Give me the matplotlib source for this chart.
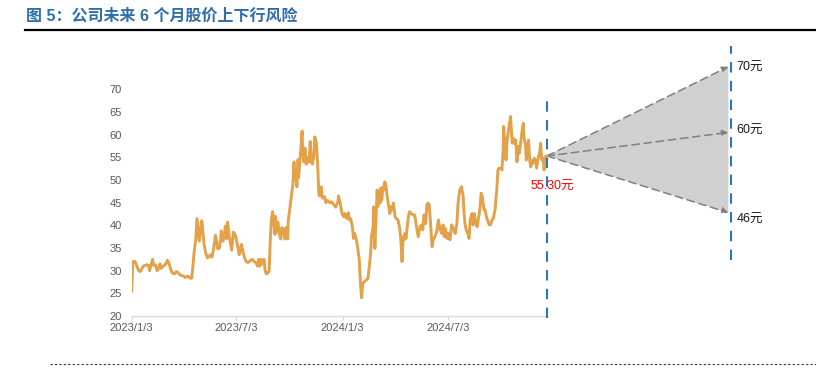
import numpy as np
import pandas as pd
import matplotlib
matplotlib.use("Agg")
import matplotlib.pyplot as plt
import matplotlib.dates as mdates
from matplotlib.lines import Line2D

plt.rcParams['font.family'] = ['Liberation Sans', 'Noto Sans CJK SC', 'DejaVu Sans']

# price series (days counted from 2023/1/3)
start_day = pd.Timestamp('2023-01-03')
days = [
    0, 2, 6, 9, 12, 15, 17, 20, 26, 29, 31, 33, 36, 38, 41, 44, 46, 49, 51, 55,
    59, 62, 65, 67, 70, 74, 77, 81, 84, 90, 93, 97, 100, 102, 104, 106, 108, 111, 113, 115,
    117, 119, 121, 122, 125, 128, 131, 133, 136, 139, 142, 145, 147, 149, 152, 154, 155, 158, 161, 162,
    164, 166, 169, 171, 173, 176, 179, 181, 184, 186, 190, 193, 195, 198, 201, 205, 209, 212, 215, 218,
    220, 222, 224, 227, 229, 231, 233, 236, 238, 240, 242, 244, 246, 248, 249, 251, 253, 256, 258, 260,
    263, 265, 267, 270, 271, 274, 277, 279, 281, 282, 284, 286, 288, 289, 291, 293, 295, 296, 298, 300,
    302, 305, 307, 309, 311, 313, 315, 317, 320, 322, 324, 325, 328, 330, 334, 336, 339, 343, 346, 350,
    353, 357, 358, 361, 364, 367, 369, 372, 375, 377, 379, 382, 384, 386, 389, 391, 394, 396, 398, 400,
    403, 406, 409, 412, 414, 415, 418, 419, 421, 423, 425, 426, 428, 430, 431, 433, 435, 437, 438, 440,
    442, 444, 447, 449, 451, 453, 456, 458, 461, 464, 466, 468, 470, 472, 473, 475, 477, 479, 481, 484,
    487, 490, 493, 496, 499, 502, 504, 506, 508, 509, 511, 513, 515, 517, 520, 522, 525, 528, 531, 534,
    537, 539, 541, 543, 546, 548, 551, 554, 557, 560, 563, 565, 568, 571, 574, 575, 577, 579, 582, 584,
    586, 589, 591, 593, 596, 598, 600, 603, 605, 607, 610, 612, 614, 617, 619, 621, 624, 626, 629, 632,
    634, 636, 639, 641, 643, 644, 646, 648, 650, 651, 654, 656, 658, 659, 661, 663, 665, 667, 669, 671,
    674, 676, 678, 679, 682, 683, 685, 687, 689, 691, 693, 695, 697, 699, 701, 703, 706, 708, 710, 712,
    714, 716, 719,
]
price = [
    25.5, 32.0, 32.0, 31.0, 30.0, 29.8, 30.3, 31.0, 31.3, 31.2, 30.0, 31.0, 32.5, 31.2, 31.3, 30.0, 30.3, 31.5, 30.5, 31.0,
    31.5, 32.3, 31.5, 30.5, 29.5, 29.3, 29.8, 29.5, 29.0, 28.8, 28.5, 28.8, 28.5, 28.3, 28.4, 31.0, 34.0, 37.0, 41.5, 39.0,
    36.5, 38.7, 41.0, 40.5, 36.0, 34.0, 32.8, 33.0, 33.5, 33.0, 35.0, 37.8, 36.5, 34.8, 35.0, 37.0, 38.8, 36.5, 38.5, 39.8,
    37.0, 40.7, 37.5, 36.0, 34.5, 38.5, 38.0, 37.0, 35.0, 33.5, 35.8, 34.0, 33.0, 32.0, 31.8, 32.2, 32.5, 32.0, 31.8, 31.0,
    32.5, 31.0, 32.5, 31.5, 32.5, 30.0, 29.3, 29.5, 30.0, 37.0, 41.3, 43.0, 40.5, 38.0, 42.0, 38.5, 40.7, 38.0, 37.0, 39.5,
    39.0, 37.0, 39.5, 37.0, 41.0, 44.0, 47.0, 49.0, 54.0, 50.0, 52.0, 48.5, 54.5, 50.5, 54.0, 57.0, 60.8, 56.0, 54.0, 57.0,
    53.5, 55.0, 54.0, 58.5, 54.0, 53.5, 55.0, 59.5, 58.0, 53.0, 47.0, 46.5, 48.5, 46.0, 46.3, 45.0, 45.5, 45.0, 45.2, 44.5,
    44.0, 45.2, 46.5, 44.9, 42.6, 41.9, 42.6, 41.5, 42.8, 41.2, 41.5, 39.7, 37.1, 38.2, 36.8, 35.3, 32.4, 27.2, 24.0, 27.2,
    27.6, 27.9, 28.3, 31.6, 34.6, 37.5, 39.7, 44.1, 34.9, 41.9, 47.8, 44.1, 46.7, 44.9, 48.2, 45.6, 48.5, 47.8, 49.6, 48.9,
    46.7, 44.9, 42.6, 44.1, 43.4, 44.9, 41.9, 41.5, 41.2, 39.3, 36.8, 32.0, 37.5, 36.8, 38.2, 37.1, 39.7, 41.9, 43.0, 42.6,
    42.3, 42.3, 39.7, 37.5, 39.7, 40.1, 39.0, 42.3, 41.2, 40.4, 44.5, 44.9, 44.5, 41.2, 35.3, 36.8, 37.5, 38.6, 41.2, 39.0,
    38.2, 40.1, 37.5, 39.3, 37.1, 38.2, 36.8, 40.1, 39.3, 38.2, 40.4, 44.9, 47.8, 48.5, 46.3, 43.4, 40.4, 39.0, 38.2, 37.1,
    41.2, 42.6, 40.1, 42.6, 40.4, 39.7, 41.2, 43.8, 47.1, 46.3, 43.4, 43.4, 41.9, 40.8, 40.1, 40.1, 41.2, 41.5, 43.4, 47.8,
    52.2, 52.6, 52.6, 52.2, 56.6, 61.8, 58.1, 54.4, 58.8, 59.6, 62.5, 64.0, 59.6, 58.1, 59.2, 58.1, 58.8, 54.0, 57.4, 55.9,
    58.8, 61.0, 62.5, 59.6, 57.4, 54.4, 56.6, 58.8, 54.4, 52.9, 54.4, 53.7, 54.8, 54.4, 52.6, 54.4, 55.9, 58.1, 54.4, 54.8,
    52.2, 55.1, 55.3,
]

current_price = 55.30
target_labels = [70, 60, 46]
# where the arrow tips sit on the value axis in the picture (not to scale with labels)
target_tips = [75.0, 60.5, 42.8]
tip_day = 1033
right_line_day = 1038

y_ticks = [20, 25, 30, 35, 40, 45, 50, 55, 60, 65, 70]
x_tick_labels = ['2023/1/3', '2023/7/3', '2024/1/3', '2024/7/3']

dates = start_day + pd.to_timedelta(days, unit='D')
last_date = dates[-1]
tip_date = start_day + pd.Timedelta(days=tip_day)
right_date = start_day + pd.Timedelta(days=right_line_day)

W, H = 816, 382
fig = plt.figure(figsize=(W / 100, H / 100), dpi=100)
ax = fig.add_axes([131.7 / W, (H - 316) / H, (800 - 131.7) / W, (316 - 44) / H])
ax.set_xlim(start_day, start_day + pd.Timedelta(days=1157))
ax.set_ylim(20, 80)

# price line
ax.plot(dates, price, color='#E3A14A', lw=2.1, solid_joinstyle='round', zorder=3)

# axes styling
for s in ['top', 'right', 'left']:
    ax.spines[s].set_visible(False)
ax.spines['bottom'].set_color('#d9d9d9')
ax.spines['bottom'].set_linewidth(1.0)
ax.spines['bottom'].set_bounds(mdates.date2num(dates[0]), mdates.date2num(last_date))
ax.set_yticks(y_ticks)
ax.set_yticklabels([str(v) for v in y_ticks])
ax.set_xticks(pd.to_datetime(x_tick_labels, format='%Y/%m/%d'))
ax.set_xticklabels(x_tick_labels)
ax.tick_params(axis='y', length=0, pad=7, labelsize=8, labelcolor='#595959')
ax.tick_params(axis='x', length=3, color='#d9d9d9', pad=2, labelsize=8, labelcolor='#595959')

# fan of future prices
ax.fill([last_date, tip_date, tip_date], [current_price, target_tips[0], target_tips[2]],
        color='#d0d0d0', lw=0, zorder=1)
for lab, tip in zip(target_labels, target_tips):
    ax.annotate('', xy=(tip_date, tip), xytext=(last_date, current_price),
                arrowprops=dict(arrowstyle='-|>', color='#7f7f7f', lw=1.1, linestyle=(0, (5, 3)),
                                shrinkA=0, shrinkB=0, mutation_scale=9), zorder=2)
offsets = {70: (6, -1), 60: (6, 1), 46: (6, -5)}
for lab, tip in zip(target_labels, target_tips):
    ax.annotate(f'{lab}元', xy=(tip_date, tip), xytext=offsets[lab], textcoords='offset points',
                ha='left', va='center', fontsize=9, color='#1a1a1a')

# current price and dashed verticals
ax.annotate(f'{current_price:.2f}元', xy=(last_date, current_price), xytext=(4, -22),
            textcoords='offset points', ha='center', va='center', fontsize=9, color='#ff0000')
ax.plot([last_date, last_date], [19.5, 67.6], color='#2E75B6', lw=1.5, ls=(0, (5, 4)),
        clip_on=False, zorder=4)
ax.plot([right_date, right_date], [32.4, 79.6], color='#2E75B6', lw=1.5, ls=(0, (5, 4)),
        clip_on=False, zorder=4)

# title and rules
fig.text(26 / W, 1 - 16 / H, '图 5：公司未来 6 个月股价上下行风险', fontsize=11.5, fontweight='bold',
         color='#2F6EAA', va='center', ha='left')
fig.add_artist(Line2D([25 / W, 1], [1 - 29.5 / H] * 2, color='black', lw=1.6))
fig.add_artist(Line2D([50 / W, 1], [1 - 364 / H] * 2, color='#333333', lw=0.8, ls=(0, (2, 2))))

fig.savefig('out.png', dpi=100)
